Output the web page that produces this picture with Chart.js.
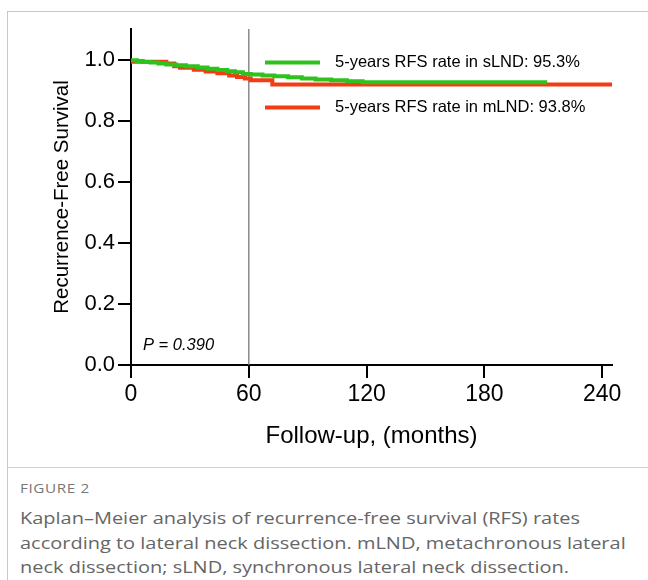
<!DOCTYPE html>
<html>
<head>
<meta charset="utf-8">
<script src="https://cdn.jsdelivr.net/npm/chart.js@4"></script>
<style>
  body { margin: 0; background: #fff; width: 648px; height: 580px; overflow: hidden; position: relative; }
  #frame { position: absolute; left: 7px; top: 11px; width: 660px; height: 600px;
           border-left: 1px solid #c8c8c8; border-top: 1px solid #c8c8c8; }
  #sep { position: absolute; left: 7px; top: 467px; width: 660px; border-top: 1px solid #d0d0d0; }
  #wrap { position: absolute; left: 0; top: 0; width: 648px; height: 465px; }
  #cap { position: absolute; left: 20px; top: 479px; width: 500px; font-family: "Open Sans", sans-serif; color: #666;
         transform: scaleX(1.175); transform-origin: 0 0; white-space: nowrap; }
  #cap .fig { font-size: 13px; letter-spacing: 0.5px; color: #777; margin-bottom: 9px; }
  #cap .txt { font-size: 17px; line-height: 24.5px; }
</style>
</head>
<body>
<div id="frame"></div>
<div id="sep"></div>
<div id="wrap"><canvas id="km"></canvas></div>
<div id="cap">
  <div class="fig">FIGURE 2</div>
  <div class="txt">Kaplan–Meier analysis of recurrence-free survival (RFS) rates<br>according to lateral neck dissection. mLND, metachronous lateral<br>neck dissection; sLND, synchronous lateral neck dissection.</div>
</div>
<script>
// follow-up months / survival
const sMonths = [0, 3, 6, 10, 14, 18, 23, 28, 34, 39, 44, 49, 53, 57, 61, 67, 73, 80, 87, 94, 102, 110, 118, 124, 212];
const sSurv   = [1.0, 0.998, 0.995, 0.992, 0.99, 0.987, 0.984, 0.981, 0.978, 0.974, 0.97, 0.966, 0.962, 0.958, 0.953, 0.951, 0.948, 0.945, 0.942, 0.938, 0.935, 0.932, 0.929, 0.926, 0.926];
const mMonths = [0, 18, 22, 25, 32, 38, 44, 50, 54, 58, 61, 72, 79, 245];
const mSurv   = [1.0, 0.993, 0.987, 0.978, 0.973, 0.967, 0.961, 0.955, 0.948, 0.943, 0.938, 0.932, 0.918, 0.918];
const legendLabels = ["5-years RFS rate in sLND: 95.3%", "5-years RFS rate in mLND: 93.8%"];
const pText = "P = 0.390";
const landmark = 60;
const xTicks = [0, 60, 120, 180, 240];
const yTicks = [0, 0.2, 0.4, 0.6, 0.8, 1.0];

const green = "#2ec21f";
const red = "#f23c14";
const font = "'Liberation Sans', Arial, sans-serif";

function pts(xs, ys) {
  return xs.map((x, i) => ({ x: x, y: ys[i] }));
}

const overlay = {
  id: "overlay",
  afterDatasetsDraw(chart) {
    const ctx = chart.ctx;
    const a = chart.chartArea;
    ctx.save();
    // legend in the plot
    const cols = [green, red];
    const rows = [a.top + 33.5, a.top + 78.5];
    legendLabels.forEach((t, i) => {
      ctx.strokeStyle = cols[i];
      ctx.lineWidth = 4;
      ctx.beginPath();
      ctx.moveTo(a.left + 134, rows[i]);
      ctx.lineTo(a.left + 189, rows[i]);
      ctx.stroke();
      ctx.fillStyle = "#000";
      ctx.font = "16.5px " + font;
      ctx.textBaseline = "middle";
      ctx.fillText(t, a.left + 204, rows[i]);
    });
    // p value
    ctx.font = "italic 16.5px " + font;
    ctx.fillText(pText, a.left + 12, a.bottom - 20);
    ctx.restore();
  }
};

new Chart(document.getElementById("km"), {
  type: "line",
  data: {
    datasets: [
      { label: "sLND", data: pts(sMonths, sSurv), borderColor: green, borderWidth: 4, stepped: "after", pointRadius: 0, fill: false },
      { label: "mLND", data: pts(mMonths, mSurv), borderColor: red, borderWidth: 4, stepped: "after", pointRadius: 0, fill: false },
      { label: "", data: [{ x: landmark, y: 0 }, { x: landmark, y: 1.1 }], borderColor: "#7a7a7a", borderWidth: 1.3, pointRadius: 0 }
    ]
  },
  options: {
    responsive: true,
    maintainAspectRatio: false,
    animation: false,
    layout: { padding: { top: 29, right: 36, left: 0, bottom: 0 } },
    plugins: { legend: { display: false }, tooltip: { enabled: false } },
    scales: {
      x: {
        type: "linear", min: 0, max: 245,
        afterBuildTicks: s => { s.ticks = xTicks.map(v => ({ value: v })); },
        afterFit: s => { s.height = 100; },
        ticks: { color: "#000", font: { family: font, size: 23 }, padding: 3, maxRotation: 0, autoSkip: false },
        grid: { drawOnChartArea: false, drawTicks: true, tickLength: 13, color: "#000", lineWidth: 2 },
        border: { display: true, color: "#000", width: 2 },
        title: { display: true, text: "Follow-up, (months)", color: "#000", font: { family: font, size: 24 }, padding: { top: 0, bottom: 14 } }
      },
      y: {
        type: "linear", min: 0, max: 1.1,
        afterBuildTicks: s => { s.ticks = yTicks.map(v => ({ value: v })); },
        afterFit: s => { s.width = 131; },
        ticks: { color: "#000", font: { family: font, size: 22 }, padding: 3, callback: v => v.toFixed(1) },
        grid: { drawOnChartArea: false, drawTicks: true, tickLength: 13, color: "#000", lineWidth: 2 },
        border: { display: true, color: "#000", width: 2 },
        title: { display: true, text: "Recurrence-Free Survival", color: "#000", font: { family: font, size: 20.5 }, padding: { top: 50, bottom: 0 } }
      }
    }
  },
  plugins: [overlay]
});
</script>
</body>
</html>
